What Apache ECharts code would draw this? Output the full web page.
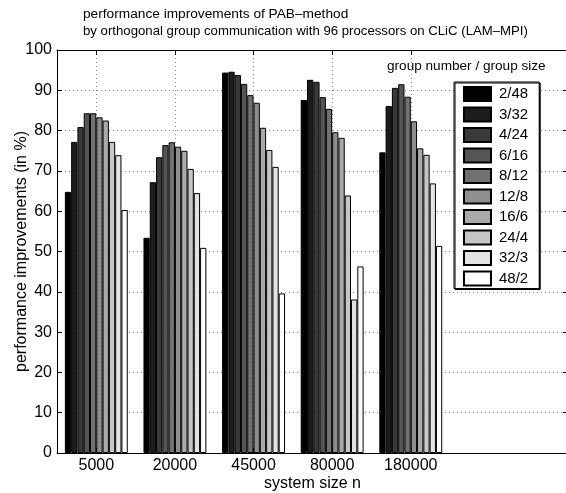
<!DOCTYPE html>
<html>
<head>
<meta charset="utf-8">
<style>
  html, body { margin: 0; padding: 0; background: #fff; }
  #chart { width: 566px; height: 493px; }
</style>
<script src="https://cdn.jsdelivr.net/npm/echarts@6/dist/echarts.min.js"></script>
</head>
<body>
<div id="chart"></div>
<script>
// System sizes on the x axis (one group of bars per size)
const systemSizes = ['5000', '20000', '45000', '80000', '180000'];

// Group configurations: group number / group size
const groupConfigs = ['2/48', '3/32', '4/24', '6/16', '8/12', '12/8', '16/6', '24/4', '32/3', '48/2'];

// Performance improvements (in %), one array per group configuration
const imp_2_48  = [64.8, 53.4, 94.4, 87.6, 74.6];
const imp_3_32  = [77.2, 67.2, 94.6, 92.6, 86.1];
const imp_4_24  = [80.9, 73.4, 93.8, 92.1, 90.6];
const imp_6_16  = [84.3, 76.4, 91.6, 88.3, 91.5];
const imp_8_12  = [84.3, 77.1, 88.8, 85.4, 88.4];
const imp_12_8  = [83.3, 76.0, 86.9, 79.6, 82.3];
const imp_16_6  = [82.5, 75.0, 80.7, 78.2, 75.6];
const imp_24_4  = [77.2, 70.5, 75.2, 63.9, 74.0];
const imp_32_3  = [73.9, 64.5, 71.0, 38.1, 66.9];
const imp_48_2  = [60.3, 50.9, 39.6, 46.3, 51.4];

const improvements = [imp_2_48, imp_3_32, imp_4_24, imp_6_16, imp_8_12,
                      imp_12_8, imp_16_6, imp_24_4, imp_32_3, imp_48_2];

// Y tick values
const yTicks = [0, 10, 20, 30, 40, 50, 60, 70, 80, 90, 100];

// Gray ramp from black to white, one shade per configuration
const grays = ['#000000', '#1c1c1c', '#393939', '#555555', '#717171',
               '#8e8e8e', '#aaaaaa', '#c6c6c6', '#e3e3e3', '#ffffff'];

const FONT = '"Liberation Sans", Arial, Helvetica, sans-serif';
const positions = systemSizes.map((_, i) => i + 1);
const xMin = 0.5;
const xMax = 7;
const yMin = yTicks[0];
const yMax = yTicks[yTicks.length - 1];
const dotted = { color: '#8a8a8a', type: [1, 3], width: 1, opacity: 1 };

// half-unit slots spanning the x range; used only to place the vertical grid lines
const halfSlots = [];
for (let v = xMin; v <= xMax + 1e-9; v += 0.5) halfSlots.push(String(v));

const chart = echarts.init(document.getElementById('chart'), null, { renderer: 'canvas' });

const series = groupConfigs.map((name, k) => ({
  name: name,
  type: 'bar',
  xAxisIndex: 0,
  yAxisIndex: 0,
  z: 3,
  barWidth: 6.29,
  barGap: '0%',
  itemStyle: { color: grays[k], borderColor: '#000', borderWidth: 1 },
  emphasis: { disabled: true },
  data: improvements[k].map((v, i) => [positions[i], v])
}));

chart.setOption({
  animation: false,
  backgroundColor: '#fff',
  textStyle: { fontFamily: FONT, color: '#000' },
  title: [
    { text: 'performance improvements of PAB\u2013method', left: 83, top: 7, padding: 0,
      textStyle: { fontSize: 13.7, fontWeight: 'normal', color: '#000', fontFamily: FONT } },
    { text: 'by orthogonal group communication with 96 processors on CLiC (LAM\u2013MPI)', left: 83, top: 24.5, padding: 0,
      textStyle: { fontSize: 13.2, fontWeight: 'normal', color: '#000', fontFamily: FONT } },
    { text: 'group number / group size', left: 387, top: 59, padding: 0,
      textStyle: { fontSize: 13.6, fontWeight: 'normal', color: '#000', fontFamily: FONT } }
  ],
  legend: {
    orient: 'vertical',
    left: 454,
    top: 82,
    itemWidth: 27,
    itemHeight: 14,
    itemGap: 4.5,
    padding: [4, 11, 2, 9],
    icon: 'rect',
    selectedMode: false,
    backgroundColor: '#fff',
    borderColor: '#000',
    borderWidth: 1,
    shadowColor: '#000',
    shadowOffsetX: 1,
    shadowOffsetY: 1,
    shadowBlur: 0,
    textStyle: { fontSize: 15, color: '#000', fontFamily: FONT, padding: [0, 0, 0, 3] },
    data: groupConfigs
  },
  grid: { left: 57, top: 50, width: 511, bottom: 40, containLabel: false, outerBoundsMode: 'none' },
  xAxis: [
    {
      type: 'value', position: 'bottom', min: xMin, max: xMax,
      name: 'system size n', nameLocation: 'middle', nameGap: 23, nameMoveOverlap: false,
      nameTextStyle: { fontSize: 16, color: '#000', fontFamily: FONT },
      axisLine: { show: true, onZero: false, lineStyle: { color: '#000', width: 1 } },
      axisTick: { show: true, inside: true, length: 5, customValues: positions, lineStyle: { color: '#000' } },
      axisLabel: { show: true, margin: 5, fontSize: 16, color: '#000', fontFamily: FONT,
        customValues: positions,
        formatter: (v) => systemSizes[Math.round(v) - 1] || '' },
      splitLine: { show: false }
    },
    {
      type: 'value', position: 'top', min: xMin, max: xMax,
      axisLine: { show: true, onZero: false, lineStyle: { color: '#000', width: 1 } },
      axisTick: { show: true, inside: true, length: 5, customValues: positions, lineStyle: { color: '#000' } },
      axisLabel: { show: false },
      splitLine: { show: false }
    },
    {
      // helper axis: dotted vertical grid lines at each system size
      type: 'category', position: 'bottom', boundaryGap: false, data: halfSlots,
      axisLine: { show: false },
      axisTick: { show: false },
      axisLabel: { show: false },
      splitLine: {
        show: true,
        interval: (index, value) => positions.indexOf(Number(value)) >= 0,
        lineStyle: dotted
      }
    }
  ],
  yAxis: [
    {
      type: 'value', position: 'left', min: yMin, max: yMax, interval: 10,
      name: 'performance improvements (in %)', nameLocation: 'middle', nameGap: 27, nameMoveOverlap: false,
      nameTextStyle: { fontSize: 16, color: '#000', fontFamily: FONT },
      axisLine: { show: true, onZero: false, lineStyle: { color: '#000', width: 1 } },
      axisTick: { show: true, inside: true, length: 5, lineStyle: { color: '#000' } },
      axisLabel: { show: true, margin: 5, fontSize: 16, color: '#000', fontFamily: FONT },
      splitLine: { show: true, lineStyle: dotted }
    },
    {
      type: 'value', position: 'right', min: yMin, max: yMax, interval: 10,
      axisLine: { show: true, onZero: false, lineStyle: { color: '#000', width: 1 } },
      axisTick: { show: true, inside: true, length: 5, lineStyle: { color: '#000' } },
      axisLabel: { show: false },
      splitLine: { show: false }
    }
  ],
  series: series
});
</script>
</body>
</html>
